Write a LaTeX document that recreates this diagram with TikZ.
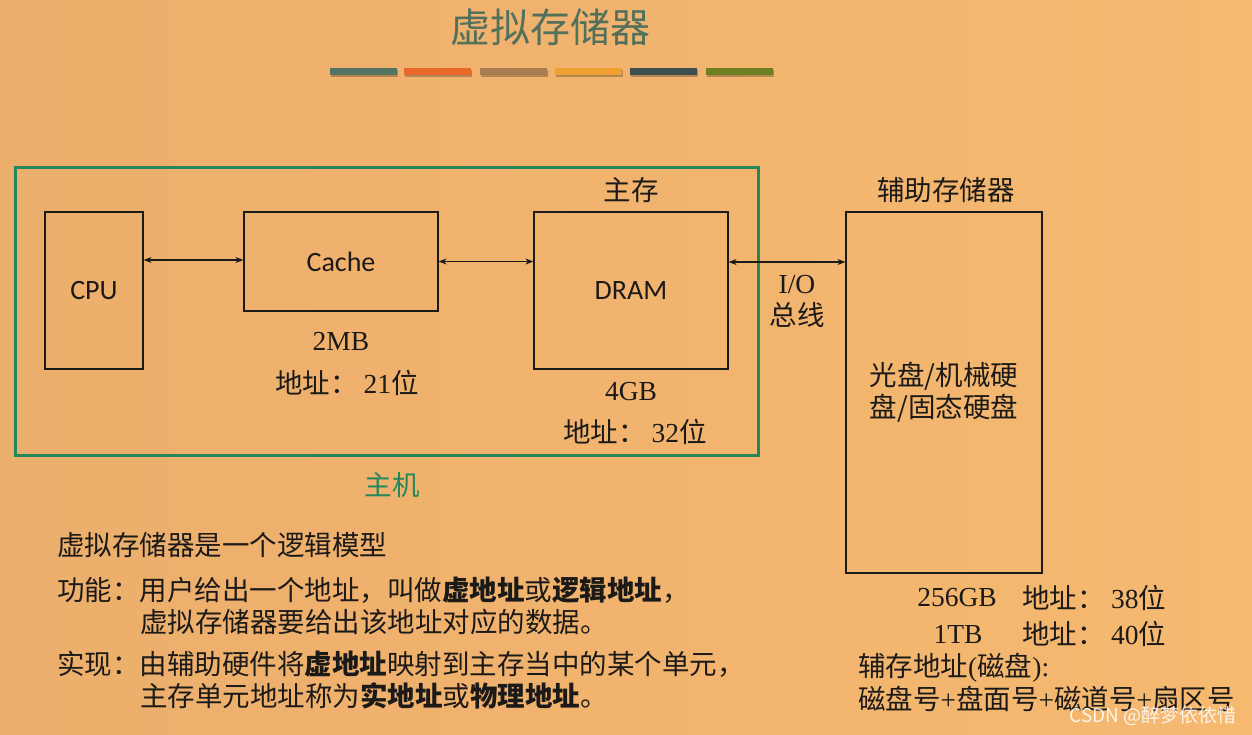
\documentclass[tikz,border=0pt]{standalone}
\usepackage{fontspec}
\setmainfont{Noto Sans CJK SC}
\newfontfamily\lat{Liberation Serif}
\newfontfamily\calfont{Carlito}
\usetikzlibrary{arrows.meta}
\definecolor{bgl}{HTML}{ECAE6C}
\definecolor{bgr}{HTML}{F6B970}
\definecolor{titlec}{HTML}{53705C}
\definecolor{hostc}{HTML}{23885C}
\definecolor{ink}{HTML}{1C1A18}
\definecolor{barA}{HTML}{537462}
\definecolor{barB}{HTML}{E8692A}
\definecolor{barC}{HTML}{A87D50}
\definecolor{barD}{HTML}{F0A030}
\definecolor{barE}{HTML}{3D4F4F}
\definecolor{barF}{HTML}{6E7E22}
\newcommand{\ltn}[1]{{\lat #1}}
\begin{document}
\begin{tikzpicture}[x=1pt,y=-1pt,
  box/.style={draw=ink,line width=1.2pt,inner sep=0pt},
  cal/.style={font=\calfont\fontsize{28}{32}\selectfont,text=ink},
  txt/.style={font=\fontsize{27.5}{32}\selectfont,text=ink,inner sep=0pt},
  bi/.style={line width=1.1pt,draw=ink,{Stealth[length=8pt,width=6pt]}-{Stealth[length=8pt,width=6pt]}},
  bar/.style={line width=0pt}]
\shade[left color=bgl,right color=bgr] (0,0) rectangle (1252,734);
\useasboundingbox (0,0) rectangle (1252,734);
% title
\node[font=\fontsize{40}{44}\selectfont,text=titlec] (title) at (550,27) {虚拟存储器};
% colour bars
\foreach \a/\c in {330/barA,404/barB,480/barC,555/barD,630/barE,706/barF}{
  \fill[black,opacity=0.25] (\a+1,70) rectangle (\a+68,77);
  \fill[\c] (\a,68) rectangle (\a+67,75);
}
% host box
\node[draw=hostc,line width=3pt,minimum width=743pt,minimum height=288pt,inner sep=0pt] (host) at (386.5,311) {};
\node[txt,text=hostc] (hostlbl) at (392,485) {主机};
% boxes
\node[box,cal,minimum width=98pt,minimum height=157pt] (cpu) at (94,290.5) {CPU};
\node[box,cal,minimum width=194pt,minimum height=99pt] (cache) at (341,261.5) {Cache};
\node[box,cal,minimum width=194pt,minimum height=157pt] (dram) at (631,290.5) {DRAM};
\node[box,txt,align=center,minimum width=196pt,minimum height=361pt] (aux) at (944,392.5) {光盘/机械硬\\[0pt]盘/固态硬盘};
% labels
\node[txt] (zhucun) at (631,190) {主存};
\node[txt] (fuzhu) at (946,190) {辅助存储器};
\node[txt] (cachesize) at (341,341) {\ltn{2MB}};
\node[txt,anchor=west] (cacheaddr) at (275,383) {地址：\hspace{6pt}\ltn{21}位};
\node[txt] (dramsize) at (631,392) {\ltn{4GB}};
\node[txt,anchor=west] (dramaddr) at (563,432) {地址：\hspace{6pt}\ltn{32}位};
\node[txt,align=center] (iobus) at (797,301) {\ltn{I/O}\\[0pt]总线};
% connectors
\draw[bi] (cpu.east |- 0,260) -- (cache.west |- 0,260);
\draw[bi] (cache.east) -- (cache.east -| dram.west);
\draw[bi] (dram.east |- 0,262) -- (aux.west |- 0,262);
% aux info
\node[txt] (s256) at (957,598) {\ltn{256GB}};
\node[txt,anchor=west] (a256) at (1022,598) {地址：};
\node[txt,anchor=west] (b256) at (1111,598) {\ltn{38}位};
\node[txt] (s1t) at (958,634) {\ltn{1TB}};
\node[txt,anchor=west] (a1t) at (1022,634) {地址：};
\node[txt,anchor=west] (b1t) at (1111,634) {\ltn{40}位};
\node[txt,anchor=west] (fcaddr) at (858,668) {辅存地址\ltn{(}磁盘\ltn{):}};
\node[txt,anchor=west] (fcfmt) at (858,699) {磁盘号\ltn{+}盘面号\ltn{+}磁道号\ltn{+}扇区号};
% left text
\node[txt,anchor=west] (l1) at (57,545) {虚拟存储器是一个逻辑模型};
\node[txt,anchor=west] (l2) at (57,590) {功能：用户给出一个地址，叫做\textbf{虚地址}或\textbf{逻辑地址}，};
\node[txt,anchor=west] (l3) at (140,622) {虚拟存储器要给出该地址对应的数据。};
\node[txt,anchor=west] (l4) at (57,664) {实现：由辅助硬件将\textbf{虚地址}映射到主存当中的某个单元，};
\node[txt,anchor=west] (l5) at (140,696) {主存单元地址称为\textbf{实地址}或\textbf{物理地址}。};
% watermark
\node[font=\fontsize{19}{22}\selectfont,text=white,opacity=0.85,anchor=east,inner sep=0pt] (wm) at (1237,716) {CSDN @醉梦依依惜};
\end{tikzpicture}
\end{document}
